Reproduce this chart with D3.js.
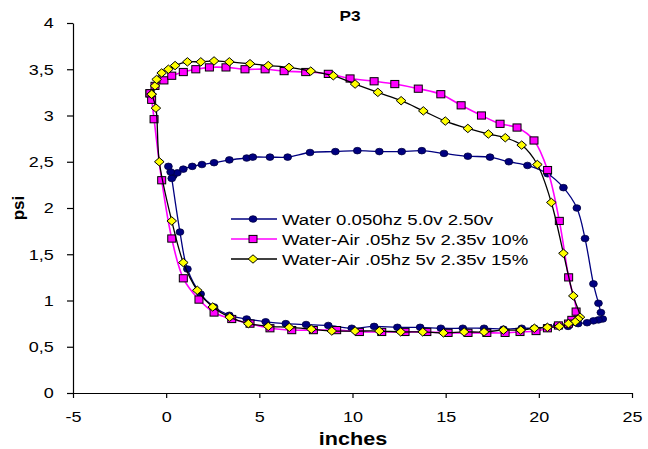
<!DOCTYPE html>
<html>
<head>
<meta charset="utf-8">
<script src="https://d3js.org/d3.v7.min.js"></script>
<style>
  body { margin: 0; background: #fff; }
  text { font-family: "Liberation Sans", Arial, sans-serif; fill: #000; }
</style>
</head>
<body>
<script>
// series: Water 0.050hz 5.0v 2.50v (navy circles)
var waterX = [0.38, 0.60, 0.92, 1.40, 1.92, 2.57, 3.39, 4.32, 4.65, 5.57, 6.52, 7.72, 9.08, 10.26, 11.44, 12.64, 13.72, 14.91, 16.19, 17.38, 18.39, 19.39, 20.47, 21.32, 22.04, 22.48, 22.93, 23.20, 23.33, 23.43, 23.20, 22.93, 22.59, 22.11, 21.57, 20.98, 20.44, 19.76, 19.08, 18.10, 17.06, 15.92, 14.74, 13.63, 12.41, 11.16, 9.96, 8.70, 7.51, 6.42, 5.34, 4.32, 3.39, 2.57, 1.85, 1.14, 0.74, 0.30, 0.24, 0.12];
var waterY = [2.35, 2.38, 2.42, 2.45, 2.47, 2.49, 2.52, 2.54, 2.55, 2.55, 2.55, 2.60, 2.61, 2.62, 2.61, 2.61, 2.62, 2.59, 2.56, 2.55, 2.50, 2.46, 2.37, 2.22, 2.00, 1.67, 1.18, 0.97, 0.87, 0.80, 0.79, 0.78, 0.76, 0.75, 0.72, 0.73, 0.71, 0.70, 0.70, 0.69, 0.70, 0.70, 0.70, 0.71, 0.71, 0.72, 0.70, 0.73, 0.74, 0.75, 0.77, 0.80, 0.84, 0.93, 1.07, 1.34, 1.74, 2.32, 2.39, 2.45];

// series: Water-Air .05hz 5v 2.35v 10% (magenta squares)
var air10X = [-0.87, -0.60, -0.12, 0.30, 0.92, 1.59, 2.32, 3.21, 4.23, 5.31, 6.33, 7.49, 8.70, 9.87, 11.16, 12.27, 13.53, 14.74, 15.83, 16.92, 17.92, 18.83, 19.74, 20.47, 21.10, 21.60, 22.00, 21.77, 21.59, 21.05, 20.46, 19.85, 18.99, 18.19, 17.21, 16.20, 15.13, 13.99, 12.82, 11.57, 10.37, 9.15, 7.90, 6.74, 5.57, 4.50, 3.52, 2.57, 1.76, 0.92, 0.30, -0.24, -0.65, -0.78, -0.87];
var air10Y = [3.24, 3.32, 3.38, 3.43, 3.47, 3.50, 3.52, 3.52, 3.50, 3.50, 3.48, 3.47, 3.45, 3.40, 3.37, 3.34, 3.29, 3.23, 3.11, 3.00, 2.91, 2.87, 2.73, 2.41, 1.86, 1.25, 0.88, 0.79, 0.75, 0.73, 0.70, 0.67, 0.66, 0.65, 0.65, 0.65, 0.65, 0.66, 0.66, 0.66, 0.66, 0.68, 0.68, 0.68, 0.70, 0.75, 0.80, 0.87, 1.01, 1.24, 1.67, 2.30, 2.96, 3.17, 3.24];

// series: Water-Air .05hz 5v 2.35v 15% (yellow diamonds)
var air15X = [-0.78, -0.60, -0.51, -0.24, 0.12, 0.48, 1.14, 1.86, 2.57, 3.39, 4.50, 5.48, 6.59, 7.76, 8.97, 10.14, 11.36, 12.61, 13.80, 14.98, 16.19, 17.29, 18.20, 19.08, 19.92, 20.67, 21.32, 21.85, 22.21, 22.11, 21.95, 21.59, 21.10, 20.46, 19.76, 19.03, 18.10, 17.06, 15.99, 14.88, 13.77, 12.59, 11.44, 10.14, 8.89, 7.79, 6.61, 5.48, 4.41, 3.41, 2.50, 1.67, 0.92, 0.30, -0.37, -0.55, -0.78];
var air15Y = [3.23, 3.32, 3.39, 3.46, 3.50, 3.54, 3.58, 3.58, 3.59, 3.58, 3.56, 3.54, 3.52, 3.48, 3.43, 3.34, 3.25, 3.16, 3.05, 2.94, 2.86, 2.80, 2.76, 2.68, 2.47, 2.06, 1.51, 1.05, 0.82, 0.80, 0.77, 0.75, 0.72, 0.71, 0.70, 0.68, 0.68, 0.66, 0.66, 0.65, 0.66, 0.66, 0.67, 0.67, 0.67, 0.69, 0.71, 0.72, 0.75, 0.82, 0.93, 1.11, 1.41, 1.86, 2.50, 3.08, 3.23];

var seriesNames = ["Water 0.050hz 5.0v 2.50v", "Water-Air .05hz 5v 2.35v 10%", "Water-Air .05hz 5v 2.35v 15%"];
var xTicks = [-5, 0, 5, 10, 15, 20, 25];
var yTicks = [0, 0.5, 1, 1.5, 2, 2.5, 3, 3.5, 4];

var W = 648, H = 449;
var plotL = 73, plotR = 632, plotT = 23, plotB = 393;

var svg = d3.select("body").append("svg")
  .attr("width", W).attr("height", H);

var x = d3.scaleLinear().domain([-5, 25]).range([plotL, plotR]);
var y = d3.scaleLinear().domain([0, 4]).range([plotB, plotT]);

var fmt = d3.formatLocale({decimal: ",", thousands: ".", grouping: [3], currency: ["", ""], minus: "-"}).format("");

// axes
var xAxis = svg.append("g")
  .attr("transform", "translate(0," + plotB + ")")
  .call(d3.axisBottom(x).tickValues(xTicks).tickSize(5).tickSizeOuter(0).tickPadding(13).tickFormat(fmt));
var yAxis = svg.append("g")
  .attr("transform", "translate(" + plotL + ",0)")
  .call(d3.axisLeft(y).tickValues(yTicks).tickSize(6).tickSizeOuter(0).tickPadding(13).tickFormat(fmt));

[xAxis, yAxis].forEach(function (a) {
  a.selectAll("path, line").attr("stroke", "#000").attr("stroke-width", 1.2);
  a.selectAll("text").style("font-size", "15px").attr("fill", "#000");
});
xAxis.selectAll("text").attr("transform", "scale(1.2,1)");
yAxis.selectAll("text").attr("transform", "scale(1.2,1)").attr("x", -16);

// titles
svg.append("text").attr("transform", "translate(350,21) scale(1.15,1)")
  .attr("text-anchor", "middle").style("font-weight", "bold").style("font-size", "15px").text("P3");
svg.append("text").attr("transform", "translate(353,445) scale(1.2,1)")
  .attr("text-anchor", "middle").style("font-weight", "bold").style("font-size", "18px").text("inches");
svg.append("text").attr("transform", "translate(24,208) rotate(-90)")
  .attr("text-anchor", "middle").style("font-weight", "bold").style("font-size", "17px").text("psi");

var line = d3.line()
  .x(function (d) { return x(d[0]); })
  .y(function (d) { return y(d[1]); })
  .curve(d3.curveCatmullRom.alpha(0.5));

function zip(a, b) { return a.map(function (v, i) { return [v, b[i]]; }); }

var series = [
  {name: seriesNames[0], pts: zip(waterX, waterY), stroke: "#000080", width: 1.3, marker: "circle", fill: "#000080", mstroke: "#000040"},
  {name: seriesNames[1], pts: zip(air10X, air10Y), stroke: "#FF00FF", width: 1.6, marker: "square", fill: "#FF00FF", mstroke: "#000"},
  {name: seriesNames[2], pts: zip(air15X, air15Y), stroke: "#000", width: 1.3, marker: "diamond", fill: "#FFFF00", mstroke: "#000"}
];

function drawMarker(g, type, fill, stroke) {
  if (type === "circle") {
    g.append("ellipse").attr("rx", 3.9).attr("ry", 3.3)
      .attr("fill", fill).attr("stroke", stroke).attr("stroke-width", 0.8);
  } else if (type === "square") {
    g.append("rect").attr("x", -4).attr("y", -3.6).attr("width", 8).attr("height", 7.2)
      .attr("fill", fill).attr("stroke", stroke).attr("stroke-width", 1);
  } else {
    g.append("path").attr("d", "M0,-4.2L4.8,0L0,4.2L-4.8,0Z")
      .attr("fill", fill).attr("stroke", stroke).attr("stroke-width", 1);
  }
}

series.forEach(function (s) {
  var g = svg.append("g");
  g.append("path").datum(s.pts).attr("d", line)
    .attr("fill", "none").attr("stroke", s.stroke).attr("stroke-width", s.width);
  g.selectAll(".m").data(s.pts).enter().append("g")
    .attr("transform", function (d) { return "translate(" + x(d[0]) + "," + y(d[1]) + ")"; })
    .each(function () { drawMarker(d3.select(this), s.marker, s.fill, s.mstroke); });
});

// legend
var legend = svg.append("g");
series.forEach(function (s, i) {
  var ly = 219 + i * 20;
  legend.append("line").attr("x1", 231).attr("x2", 277).attr("y1", ly).attr("y2", ly)
    .attr("stroke", s.stroke).attr("stroke-width", s.width);
  var m = legend.append("g").attr("transform", "translate(253," + ly + ")");
  drawMarker(m, s.marker, s.fill, s.mstroke);
  legend.append("text").attr("transform", "translate(282," + (ly + 5.5) + ") scale(1.2,1)")
    .style("font-size", "15.5px").text(s.name);
});
</script>
</body>
</html>
